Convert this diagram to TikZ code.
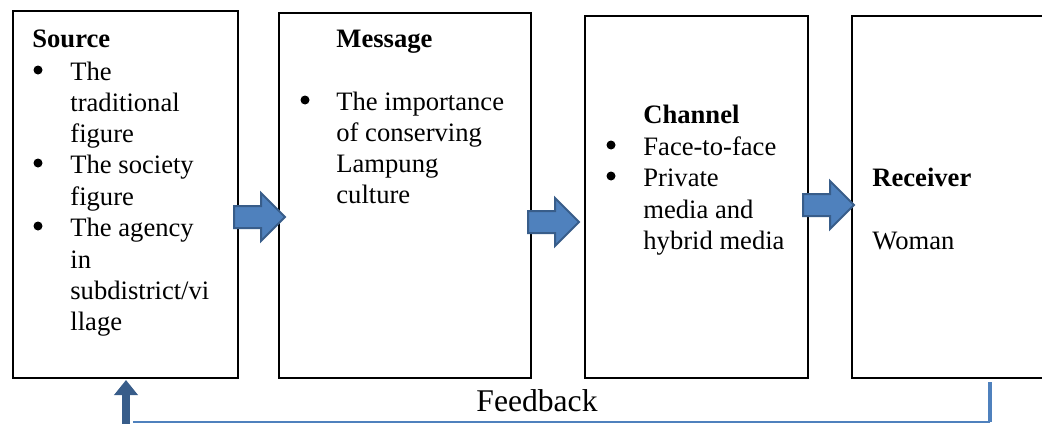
\documentclass[tikz,border=0pt]{standalone}
\usepackage{fontspec}
\setmainfont{Liberation Serif}
\usepackage{tikz}
\usetikzlibrary{arrows.meta, positioning}
\definecolor{arrowfill}{HTML}{4F81BD}
\definecolor{arrowline}{HTML}{385D8A}

\begin{document}
\begin{tikzpicture}[x=0.5pt, y=-0.5pt]
	\tikzstyle{box_style}=[rectangle, draw, line width=1pt, anchor=north west, inner sep=0pt]
	\tikzstyle{text_style}=[anchor=base west, inner sep=0pt, font=\fontsize{13.3}{16}\selectfont]
	\tikzstyle{head_style}=[anchor=base west, inner sep=0pt, font=\fontsize{13.3}{16}\selectfont\bfseries]
	\tikzstyle{bullet_style}=[circle, fill, inner sep=0pt, minimum size=4.5pt]
	\tikzstyle{blockarrow_style}=[fill=arrowfill, draw=arrowline, line width=1pt, line join=miter]
	\clip (0,0) rectangle (1042,423);
	% boxes
	\node at (12,10) [box_style, minimum width=112.5pt, minimum height=183.5pt] (source) {};
	\node at (278,12) [box_style, minimum width=126pt, minimum height=182.5pt] (message) {};
	\node at (584,15) [box_style, minimum width=111.5pt, minimum height=181pt] (channel) {};
	\node at (851,15) [box_style, minimum width=125pt, minimum height=181pt] (receiver) {};
	% source
	\node at (32,47) [head_style] (source_title) {Source};
	\foreach \y/\t in {80/The, 111/traditional, 142/figure, 173/The society, 205/figure, 236/The agency, 268/in, 299/{subdistrict/vi}, 330/llage}
		\node at (70,\y) [text_style] (source_\y) {\t};
	\foreach \y in {80,173,236}
		\node at (38,\y-10) [bullet_style] (source_bullet_\y) {};
	% message
	\node at (336,47) [head_style] (message_title) {Message};
	\foreach \y/\t in {110/The importance, 141/of conserving, 172/Lampung, 203/culture}
		\node at (336,\y) [text_style] (message_\y) {\t};
	\node at (305,100) [bullet_style] (message_bullet) {};
	% channel
	\node at (643,123) [head_style] (channel_title) {Channel};
	\foreach \y/\t in {155/Face-to-face, 186/Private, 218/media and, 249/hybrid media}
		\node at (643,\y) [text_style] (channel_\y) {\t};
	\foreach \y in {155,186}
		\node at (611,\y-10) [bullet_style] (channel_bullet_\y) {};
	% receiver
	\node at (872,186) [head_style] (receiver_title) {Receiver};
	\node at (872,249) [text_style] (receiver_text) {Woman};
	% block arrows between the boxes
	\foreach \x/\y in {234/217, 528/222, 803/205}
		\draw[blockarrow_style] (\x,\y-11) -- (\x+27,\y-11) -- (\x+27,\y-24) -- (\x+51,\y)
			-- (\x+27,\y+24) -- (\x+27,\y+11) -- (\x,\y+11) -- cycle;
	% feedback
	\node at (537,411) [anchor=base, inner sep=0pt, font=\fontsize{15.8}{18}\selectfont] (feedback) {Feedback};
	\coordinate (fb_start) at (990,382);
	\coordinate (fb_corner) at (990,422);
	\coordinate (fb_left) at (133,422);
	\coordinate (fb_foot) at (126,425);
	\coordinate (fb_tip) at (126,380);
	\draw[line width=2pt, arrowfill] (fb_start) -- (fb_corner);
	\draw[line width=0.8pt, arrowfill] (fb_corner) -- (fb_left);
	\draw[line width=4pt, arrowline, -{Triangle[width=11.5pt,length=7.5pt]}] (fb_foot) -- (fb_tip);
\end{tikzpicture}
\end{document}
